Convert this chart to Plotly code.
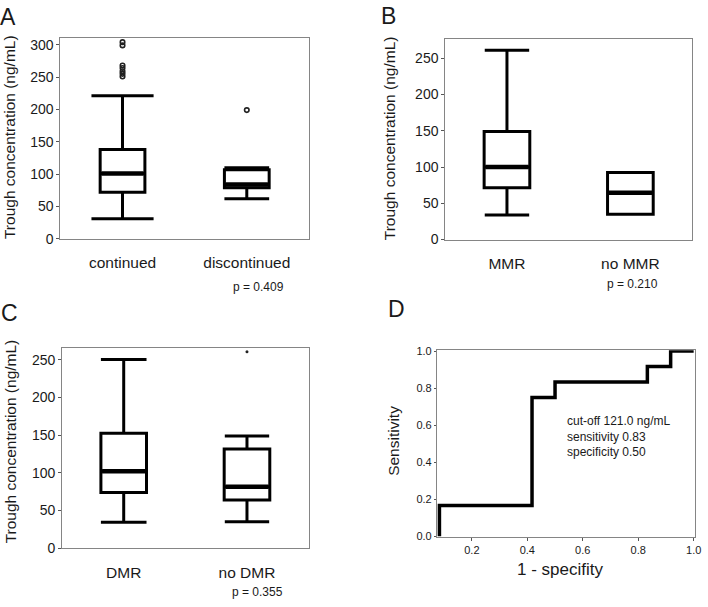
import plotly.graph_objects as go

W, H = 708, 607
FONT = "Liberation Sans, Arial, sans-serif"

# ---------- data ----------
# Panel A
a_cats = ["continued", "discontinued"]
a_q1 = [72, 79]
a_med = [101, 84]
a_q3 = [138, 107]
a_lo = [31, 62]
a_hi = [221, 110]
a_out_cont = [304, 299, 268, 264, 259, 255, 251]
a_out_disc = [199]
# Panel B
b_cats = ["MMR", "no MMR"]
b_q1 = [71.5, 35]
b_med = [100, 64.5]
b_q3 = [149, 92.5]
b_lo = [34, 35]
b_hi = [261, 92.5]
# Panel C
c_cats = ["DMR", "no DMR"]
c_q1 = [74, 64]
c_med = [102, 81.5]
c_q3 = [152.5, 131.5]
c_lo = [34.5, 35]
c_hi = [250.5, 149]
c_out_nodmr = [261]
# Panel D (ROC)
roc_fpr = [0.083, 0.083, 0.417, 0.417, 0.5, 0.5, 0.833, 0.833, 0.917, 0.917, 1.0]
roc_tpr = [0.0, 0.167, 0.167, 0.75, 0.75, 0.833, 0.833, 0.917, 0.917, 1.0, 1.0]
roc_text = ["cut-off 121.0 ng/mL", "sensitivity 0.83", "specificity 0.50"]
p_values = ["p = 0.409", "p = 0.210", "p = 0.355"]
y_title = "Trough concentration (ng/mL)"

# ---------- layout helpers ----------
def px_x(x):
    return x / W

def px_y(y):
    return 1 - y / H

fig = go.Figure()

panels = [
    ("x", "y", a_cats, a_q1, a_med, a_q3, a_lo, a_hi, [0.36, 0.36], [0.5, 0.36]),
    ("x2", "y2", b_cats, b_q1, b_med, b_q3, b_lo, b_hi, [0.37, 0.37], [0.36, 0.0]),
    ("x3", "y3", c_cats, c_q1, c_med, c_q3, c_lo, c_hi, [0.37, 0.37], [0.37, 0.36]),
]

for xa, ya, cats, q1, med, q3, lo, hi, bw, cw in panels:
    pos = list(range(len(cats)))
    for i in pos:
        fig.add_trace(go.Box(
            x=[pos[i]], q1=[q1[i]], median=[med[i]], q3=[q3[i]],
            lowerfence=[lo[i]], upperfence=[hi[i]], width=bw[i],
            line=dict(color="black", width=3), fillcolor="white",
            whiskerwidth=0, boxpoints=False, showlegend=False,
            xaxis=xa, yaxis=ya, hoverinfo="skip"))
    # whisker caps
    cx, cy = [], []
    for i in pos:
        if cw[i] > 0:
            for v in (lo[i], hi[i]):
                cx += [pos[i] - cw[i] / 2, pos[i] + cw[i] / 2, None]
                cy += [v, v, None]
    fig.add_trace(go.Scatter(x=cx, y=cy, mode="lines",
                             line=dict(color="black", width=3),
                             showlegend=False, xaxis=xa, yaxis=ya, hoverinfo="skip"))
    # thicker median
    mx, my = [], []
    for i in pos:
        mx += [pos[i] - bw[i] / 2 + 0.01, pos[i] + bw[i] / 2 - 0.01, None]
        my += [med[i], med[i], None]
    fig.add_trace(go.Scatter(x=mx, y=my, mode="lines",
                             line=dict(color="black", width=4.5),
                             showlegend=False, xaxis=xa, yaxis=ya, hoverinfo="skip"))

# outliers
fig.add_trace(go.Scatter(x=[0] * len(a_out_cont), y=a_out_cont, mode="markers",
                         marker=dict(symbol="circle-open", size=4.5, color="#222",
                                     line=dict(width=1.6)),
                         showlegend=False, xaxis="x", yaxis="y"))
fig.add_trace(go.Scatter(x=[1] * len(a_out_disc), y=a_out_disc, mode="markers",
                         marker=dict(symbol="circle-open", size=4.5, color="#222",
                                     line=dict(width=1.6)),
                         showlegend=False, xaxis="x", yaxis="y"))
fig.add_trace(go.Scatter(x=[1] * len(c_out_nodmr), y=c_out_nodmr, mode="markers",
                         marker=dict(symbol="circle", size=3, color="#222"),
                         showlegend=False, xaxis="x3", yaxis="y3"))

# ROC
fig.add_trace(go.Scatter(x=roc_fpr, y=roc_tpr, mode="lines",
                         line=dict(color="black", width=3.5),
                         showlegend=False, xaxis="x4", yaxis="y4"))

frame = "#858585"
def cat_x(domain, cats):
    return dict(domain=domain, range=[-0.5, 1.5], tickvals=list(range(len(cats))),
                ticktext=cats, ticks="outside", ticklen=10, tickcolor="rgba(0,0,0,0)",
                showline=True, linecolor=frame, linewidth=1, mirror=True,
                showgrid=False, zeroline=False, fixedrange=True,
                tickfont=dict(family=FONT, size=15.5, color="#1a1a1a"))

def val_y(domain, rng, dtick):
    return dict(domain=domain, range=rng, dtick=dtick, tick0=0, ticks="outside", ticklen=3,
                tickcolor="#555", showline=True, linecolor=frame, linewidth=1, mirror=True,
                showgrid=False, zeroline=False, fixedrange=True,
                tickfont=dict(family=FONT, size=14, color="#1a1a1a"))

fig.update_layout(
    width=W, height=H, margin=dict(l=0, r=0, t=0, b=0),
    paper_bgcolor="white", plot_bgcolor="white",
    xaxis=cat_x([px_x(61), px_x(312)], a_cats),
    yaxis=val_y([px_y(239), px_y(34)], [0, 310], 50),
    xaxis2=dict(cat_x([px_x(449.7), px_x(699)], b_cats), anchor="y2"),
    yaxis2=dict(val_y([px_y(239.7), px_y(34.3)], [0, 277], 50), anchor="x2"),
    xaxis3=dict(cat_x([px_x(62.7), px_x(311.7)], c_cats), anchor="y3"),
    yaxis3=dict(val_y([px_y(555), px_y(350)], [0, 266.5], 50), anchor="x3"),
    xaxis4=dict(domain=[px_x(441.3), px_x(701.7)], range=[0.074, 1.004], anchor="y4",
                tickvals=[0.2, 0.4, 0.6, 0.8, 1.0], ticktext=["0.2", "0.4", "0.6", "0.8", "1.0"],
                ticks="outside", ticklen=3, tickcolor="#555", ticklabeloverflow="allow",
                showline=True, linecolor=frame, linewidth=1, mirror=True,
                showgrid=False, zeroline=False, fixedrange=True,
                tickfont=dict(family=FONT, size=11, color="#1a1a1a")),
    yaxis4=dict(domain=[px_y(543.7), px_y(352.7)], range=[-0.004, 1.005], anchor="x4",
                tickvals=[0, 0.2, 0.4, 0.6, 0.8, 1.0],
                ticktext=["0.0", "0.2", "0.4", "0.6", "0.8", "1.0"],
                ticks="outside", ticklen=2, tickcolor="#555", ticklabeloverflow="allow",
                showline=True, linecolor=frame, linewidth=1, mirror=True,
                showgrid=False, zeroline=False, fixedrange=True,
                tickfont=dict(family=FONT, size=11, color="#1a1a1a")),
)

ann = []
def add_text(text, x, y, size, xanchor="center", yanchor="middle", angle=0):
    ann.append(dict(text=text, x=px_x(x), y=px_y(y), xref="paper", yref="paper",
                    xanchor=xanchor, yanchor=yanchor, showarrow=False, textangle=angle,
                    font=dict(family=FONT, size=size, color="#1a1a1a")))

# panel letters
add_text("A", 8.5, 12.5, 23)
add_text("B", 392.5, 11.5, 23)
add_text("C", 9.5, 314.5, 23)
add_text("D", 400.5, 310.5, 23)
# y titles
add_text(y_title, 9, 135, 15.5, angle=-90)
add_text(y_title, 393, 136, 15.5, angle=-90)
add_text(y_title, 11, 446, 15.5, angle=-90)
add_text("Sensitivity", 397.3, 445, 15.5, angle=-90)
add_text("1 - specifity", 566, 576.7, 17)
# p values
add_text(p_values[0], 289, 288.3, 12, xanchor="right")
add_text(p_values[1], 666.5, 285, 12, xanchor="right")
add_text(p_values[2], 288, 600, 12, xanchor="right")
# ROC annotation
add_text("<br>".join(roc_text), 571, 441.2, 12, xanchor="left", yanchor="middle")
ann[-1]["align"] = "left"

fig.update_layout(annotations=ann)
fig.write_html("out.html")
